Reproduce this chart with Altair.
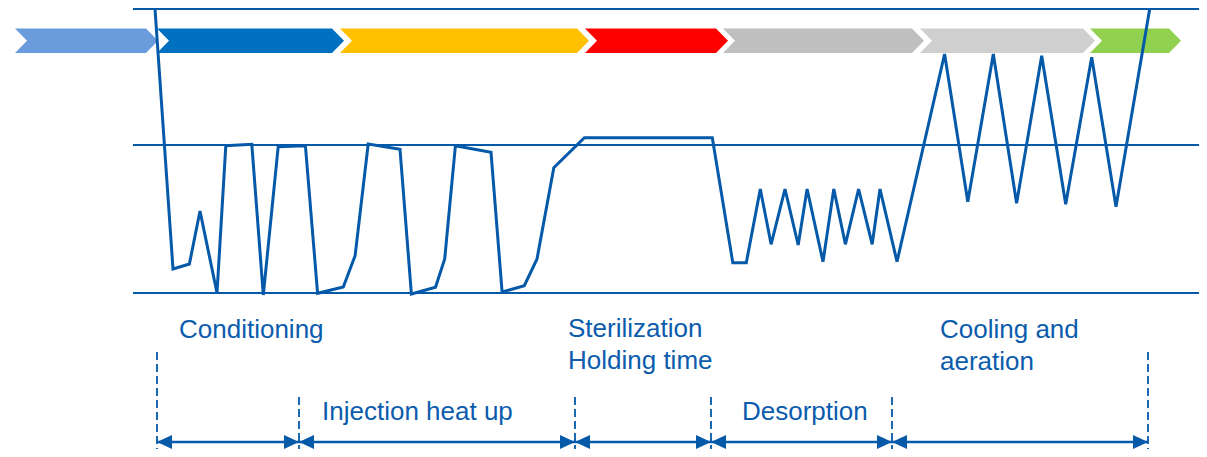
import altair as alt
import pandas as pd

# ---- data (diagram coordinates) ----
curve_t = [155, 173, 189.4, 200, 217, 225.8, 251.8, 263.3, 278.2, 305.4, 317.6, 343.3, 355.1,
           368.2, 400, 411.4, 435.5, 444.7, 455.4, 491, 502.1, 524.3, 537, 553.8, 584.4,
           712.3, 732.8, 746.3, 760.3, 771.1, 785, 798.2, 807.1, 823, 833.8, 845.4, 858.6,
           872.2, 880, 897, 944.6, 967.8, 993.3, 1016.6, 1041.7, 1065.7, 1091.7, 1116, 1149.7]
curve_p = [9, 269, 264, 211, 293, 145.7, 144.3, 295, 146.7, 145.7, 293.3, 287, 255.7,
           144, 149.3, 294, 287.3, 259, 145.7, 152.3, 292, 285.7, 259, 167.7, 137.7,
           137.7, 262.7, 262.7, 189, 244.3, 189, 245, 189, 261.7, 189, 244.3, 189,
           244.3, 189, 261.7, 54, 201.7, 54, 203.3, 55.7, 204.3, 57.3, 206.7, 9]

level_y = [9, 145, 293]
level_x0 = 133
level_x1 = 1210

chev_names = ["c1", "c2", "c3", "c4", "c5", "c6", "c7"]
chev_start = [15, 157, 340, 585, 723, 920, 1090]
chev_tip = [158, 344, 589, 728, 924, 1095, 1181]
chev_colors = ["#6A9BDC", "#0070C0", "#FFC000", "#FF0000", "#BFBFBF", "#CFCFCF", "#92D050"]
chev_top, chev_mid, chev_bot, chev_d = 28.5, 40.75, 53, 12

div_x = [157, 299, 575, 711, 892, 1148]
div_top = [352, 397, 397, 397, 397, 352]
div_bottom = 460

arrow_y = 442

labels = ["Conditioning", "Sterilization", "Holding time", "Cooling and", "aeration",
          "Injection heat up", "Desorption"]
label_x = [179, 568, 568, 940, 940, 322, 742]
label_y = [338, 337, 369, 338, 370, 420, 420]

BLUE = "#0559A9"
TEXT = "#0b5cad"

# ---- tables ----
curve_df = pd.DataFrame({"t": curve_t, "p": curve_p, "i": range(len(curve_t))})
level_df = pd.DataFrame({"y": level_y, "x0": level_x0, "x1": level_x1})
chev_df = pd.DataFrame({
    "name": chev_names,
    "s": chev_start,
    "body_end": [e - chev_d for e in chev_tip],
    "top": chev_top, "mid": chev_mid, "bot": chev_bot,
})
div_df = pd.DataFrame({"x": div_x, "y0": div_top, "y1": div_bottom})
seg_df = pd.DataFrame({"a": div_x[:-1], "b": div_x[1:], "y": arrow_y})
lab_df = pd.DataFrame({"label": labels, "x": label_x, "y": label_y})

xs = alt.Scale(domain=[8, 1199], nice=False, zero=False)
ys = alt.Scale(domain=[8, 449], nice=False, zero=False, reverse=True)
X = lambda f: alt.X(f, type="quantitative", scale=xs, axis=None)
Y = lambda f: alt.Y(f, type="quantitative", scale=ys, axis=None)
chev_color = alt.Color("name:N", scale=alt.Scale(domain=chev_names, range=chev_colors), legend=None)

# chevron = body rectangle + coloured tip, with a white notch cut at the left
half = (chev_bot - chev_top) / 2
tri_size = (2 * half) ** 2
tip_path = "M0,-1L%.3f,0L0,1Z" % (chev_d / half)

chev_body = alt.Chart(chev_df).mark_rect().encode(
    x=X("s"), x2="body_end", y=Y("top"), y2="bot", color=chev_color)
chev_notch = alt.Chart(chev_df).mark_point(
    shape=tip_path, filled=True, color="white", opacity=1, size=tri_size, strokeWidth=0
).encode(x=X("s"), y=Y("mid"))
chev_tip_l = alt.Chart(chev_df).mark_point(
    shape=tip_path, filled=True, opacity=1, size=tri_size, strokeWidth=0
).encode(x=X("body_end"), y=Y("mid"), color=chev_color)

levels = alt.Chart(level_df).mark_rule(color=BLUE, strokeWidth=1.8).encode(
    y=Y("y"), x=X("x0"), x2="x1")

curve = alt.Chart(curve_df).mark_line(color=BLUE, strokeWidth=3, strokeJoin="miter").encode(
    x=X("t"), y=Y("p"), order="i:Q")

divs = alt.Chart(div_df).mark_rule(color=BLUE, strokeWidth=1.8, strokeDash=[8, 4]).encode(
    x=X("x"), y=Y("y0"), y2="y1")

segs = alt.Chart(seg_df).mark_rule(color=BLUE, strokeWidth=2.5).encode(
    x=X("a"), x2="b", y=Y("y"))

left_heads = alt.Chart(seg_df).mark_point(
    shape="M0,0L2,-0.93L2,0.93Z", filled=True, color=BLUE, opacity=1, size=225, strokeWidth=0
).encode(x=X("a"), y=Y("y"))
right_heads = alt.Chart(seg_df).mark_point(
    shape="M0,0L-2,-0.93L-2,0.93Z", filled=True, color=BLUE, opacity=1, size=225, strokeWidth=0
).encode(x=X("b"), y=Y("y"))

texts = alt.Chart(lab_df).mark_text(
    align="left", baseline="alphabetic", font="Liberation Sans", fontSize=26, color=TEXT
).encode(x=X("x"), y=Y("y"), text="label:N")

chart = alt.layer(
    chev_body, chev_notch, chev_tip_l, levels, curve, divs, segs, left_heads, right_heads, texts
).resolve_scale(color="shared").properties(
    width=1191, height=441, padding=0, autosize=alt.AutoSizeParams(type="none")
).configure_view(stroke=None)

chart.save("out.html", embed_options={"renderer": "svg", "actions": False})
